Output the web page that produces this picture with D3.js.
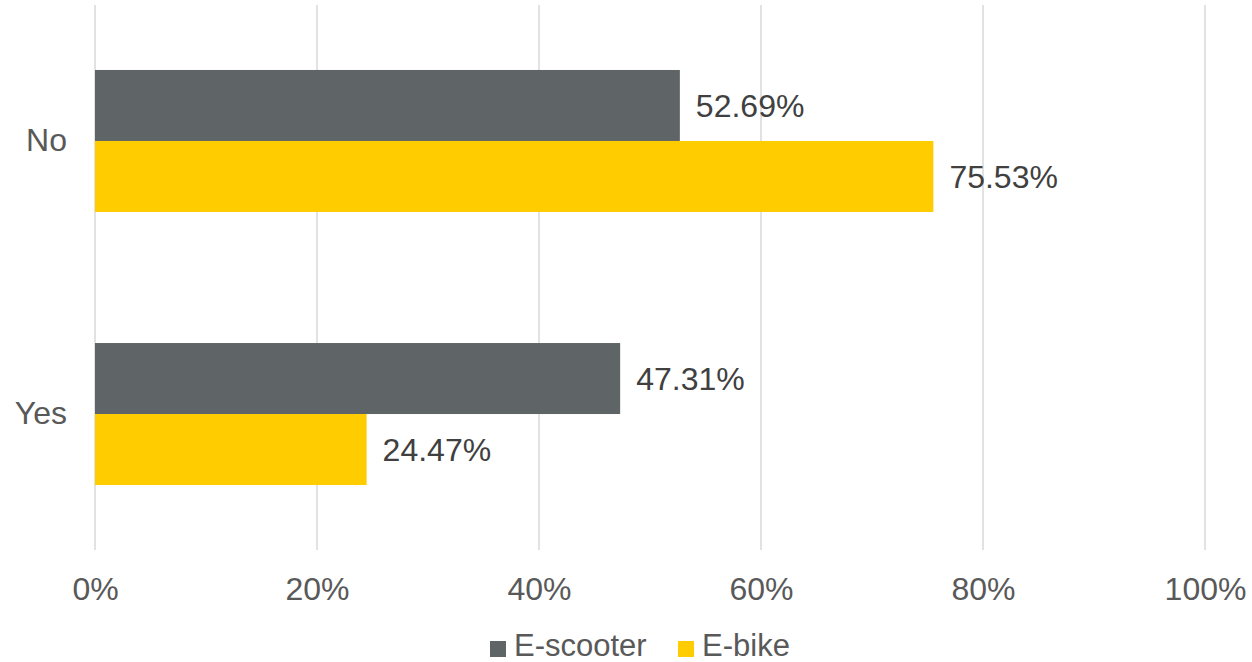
<!DOCTYPE html>
<html>
<head>
<meta charset="utf-8">
<script src="https://cdn.jsdelivr.net/npm/d3@7"></script>
<style>
  html, body { margin: 0; padding: 0; background: #fff; }
  svg { display: block; }
  text { font-family: "Liberation Sans", Arial, sans-serif; }
</style>
</head>
<body>
<svg id="chart" width="1252" height="662"></svg>
<script>
const categories = ["No", "Yes"];
const seriesNames = ["E-scooter", "E-bike"];
const escooterValues = [52.69, 47.31];
const ebikeValues = [75.53, 24.47];
const xTicks = [0, 20, 40, 60, 80, 100];
const colors = ["#5f6467", "#ffcc00"];

(function () {
const seriesValues = [escooterValues, ebikeValues];

const svg = d3.select("#chart");
const mLeft = 95, mRight = 1205, mTop = 5, mBottom = 550;
const FS = 32;

const x = d3.scaleLinear().domain([0, 100]).range([mLeft, mRight]);
const y = d3.scaleBand().domain(categories).range([mTop, mBottom])
  .paddingInner(0.48).paddingOuter(0.238);
const ySub = d3.scaleBand().domain(seriesNames).range([0, y.bandwidth()]);

// gridlines
svg.append("g").selectAll("line").data(xTicks).join("line")
  .attr("x1", d => x(d)).attr("x2", d => x(d))
  .attr("y1", mTop).attr("y2", mBottom)
  .attr("stroke", "#d9d9d9").attr("stroke-width", 1.5);

// x tick labels via axis
const xAxis = d3.axisBottom(x).tickValues(xTicks).tickFormat(d => d + "%").tickSize(0).tickPadding(0);
const gx = svg.append("g").attr("transform", `translate(0,${589})`).call(xAxis);
gx.select(".domain").remove();
gx.selectAll("text").attr("font-size", FS).attr("fill", "#595959")
  .attr("font-family", "Liberation Sans, Arial, sans-serif")
  .attr("dy", "0.35em").attr("y", 0);

// y labels
const yAxis = d3.axisLeft(y).tickSize(0).tickPadding(28);
const gy = svg.append("g").attr("transform", `translate(${mLeft},0)`).call(yAxis);
gy.select(".domain").remove();
gy.selectAll("text").attr("font-size", FS).attr("fill", "#595959")
  .attr("font-family", "Liberation Sans, Arial, sans-serif");

// bars
const rows = [];
categories.forEach((c, i) => {
  seriesNames.forEach((s, j) => rows.push({ cat: c, series: s, value: seriesValues[j][i], color: colors[j] }));
});

svg.append("g").selectAll("rect").data(rows).join("rect")
  .attr("x", x(0))
  .attr("y", d => y(d.cat) + ySub(d.series))
  .attr("width", d => x(d.value) - x(0))
  .attr("height", ySub.bandwidth())
  .attr("fill", d => d.color);

svg.append("g").selectAll("text").data(rows).join("text")
  .attr("x", d => x(d.value) + 16)
  .attr("y", d => y(d.cat) + ySub(d.series) + ySub.bandwidth() / 2)
  .attr("dy", "0.35em")
  .attr("font-size", FS).attr("fill", "#404040")
  .text(d => d.value.toFixed(2) + "%");

// legend
const legend = svg.append("g");
const legendItems = [{ name: seriesNames[0], color: colors[0], sx: 490, tx: 514 },
                     { name: seriesNames[1], color: colors[1], sx: 678, tx: 702 }];
legendItems.forEach(it => {
  legend.append("rect").attr("x", it.sx).attr("y", 641).attr("width", 16).attr("height", 16).attr("fill", it.color);
  legend.append("text").attr("x", it.tx).attr("y", 656)
    .attr("font-size", 31).attr("fill", "#595959").text(it.name);
});
})();
</script>
</body>
</html>
